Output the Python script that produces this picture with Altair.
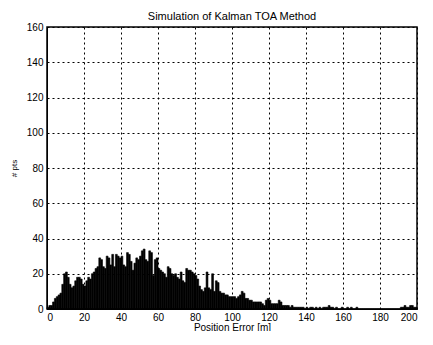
import altair as alt
import pandas as pd

title = "Simulation of Kalman TOA Method"
x_title = "Position Error [m]"
y_title = "# pts"

bin_starts = list(range(0, 200))
counts = [
    1, 2, 2, 4, 6, 7, 8, 9, 14, 20,
    21, 18, 14, 12, 13, 16, 18, 18, 17, 14,
    13, 16, 18, 17, 20, 21, 23, 24, 29, 28,
    24, 23, 30, 29, 25, 31, 24, 31, 30, 29,
    30, 25, 24, 32, 31, 27, 22, 26, 29, 28,
    30, 33, 34, 28, 27, 33, 32, 19, 28, 29,
    23, 22, 21, 20, 18, 24, 23, 20, 19, 20,
    18, 17, 21, 16, 15, 23, 22, 22, 21, 20,
    19, 17, 13, 11, 10, 12, 21, 12, 11, 20,
    10, 16, 15, 10, 9, 9, 8, 8, 7, 7,
    7, 7, 6, 7, 8, 10, 9, 6, 6, 5,
    5, 4, 4, 4, 4, 4, 3, 2, 5, 6,
    5, 3, 3, 3, 3, 5, 4, 2, 2, 2,
    2, 1, 2, 1, 1, 1, 1, 1, 1, 0,
    1, 0, 1, 1, 0, 1, 0, 1, 0, 1,
    1, 1, 2, 1, 1, 0, 1, 0, 0, 1,
    0, 0, 1, 0, 1, 0, 0, 1, 0, 0,
    0, 0, 0, 0, 0, 0, 0, 0, 0, 0,
    0, 0, 0, 0, 0, 0, 0, 0, 0, 0,
    0, 1, 1, 2, 1, 1, 2, 2, 1, 1,
]
x_ticks = [0, 20, 40, 60, 80, 100, 120, 140, 160, 180, 200]
y_ticks = [0, 20, 40, 60, 80, 100, 120, 140, 160]

df = pd.DataFrame({
    "x0": bin_starts,
    "x1": [b + 1 for b in bin_starts],
    "n": counts,
    "base": [0] * len(bin_starts),
})

font = "Liberation Sans"

chart = alt.Chart(df).mark_rect(color="black", stroke="black", strokeWidth=0.6).encode(
    x=alt.X("x0:Q", scale=alt.Scale(domain=[0, 200], nice=False),
            axis=alt.Axis(values=x_ticks, title=x_title, grid=True, gridDash=[2, 3],
                          gridColor="black", gridOpacity=1, gridWidth=1,
                          ticks=False, labelPadding=3,
                          domainColor="black", labelFont=font, labelFontSize=10,
                          labelColor="black", titleFont=font, titleFontSize=10,
                          titleFontWeight="normal", titleColor="black", titlePadding=0)),
    x2="x1:Q",
    y=alt.Y("n:Q", scale=alt.Scale(domain=[0, 160], nice=False),
            axis=alt.Axis(values=y_ticks, title=y_title, grid=True, gridDash=[2, 3],
                          gridColor="black", gridOpacity=1, gridWidth=1,
                          ticks=False, labelPadding=4,
                          domainColor="black", labelFont=font, labelFontSize=10,
                          labelColor="black", titleFont=font, titleFontSize=8,
                          titleFontWeight="normal", titleColor="black", titlePadding=8)),
    y2="base:Q",
).properties(
    width=370,
    height=282,
    title=alt.Title(title, font=font, fontSize=11, fontWeight="normal", color="black", offset=0),
    autosize=alt.AutoSizeParams(type="none"),
    padding={"left": 39, "top": 19, "right": 8, "bottom": 22},
).configure_view(stroke="black", strokeWidth=1.5)

chart.save("out.html", embed_options={"renderer": "svg", "actions": False})
